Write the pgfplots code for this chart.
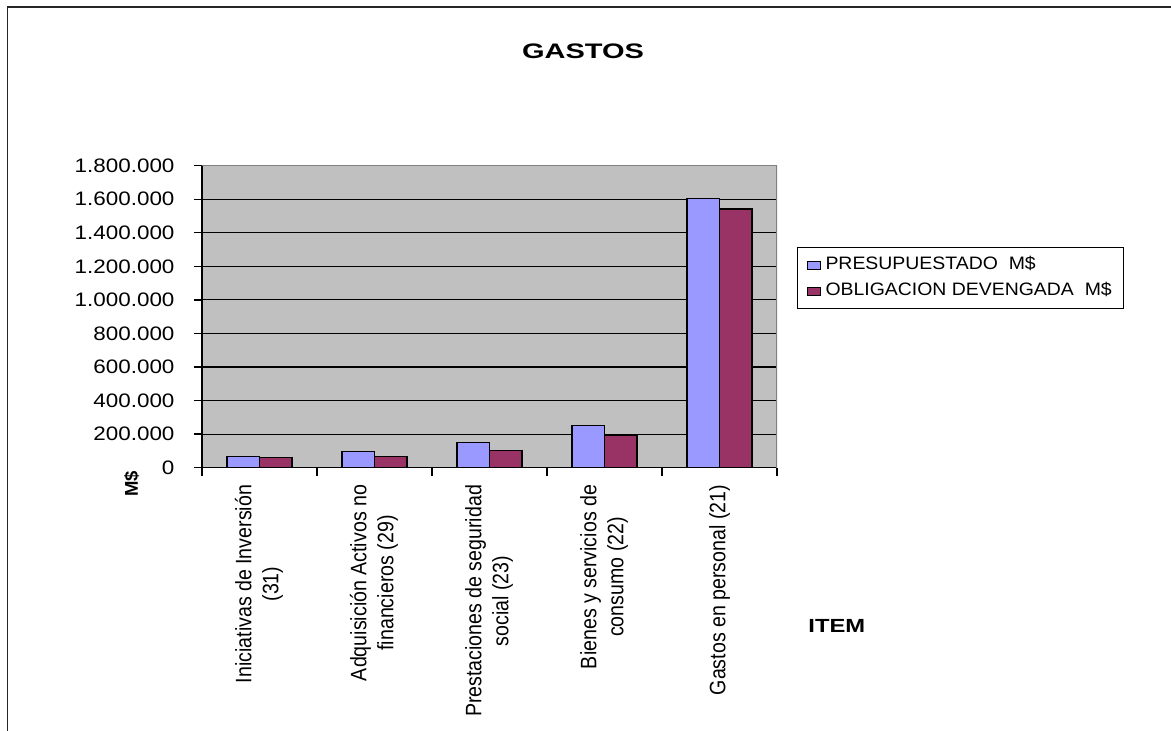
\documentclass[border=0pt]{standalone}
\usepackage{fontspec}
\setmainfont{Liberation Sans}
\usepackage{pgfplots}
\pgfplotsset{compat=1.18}
\definecolor{barblue}{HTML}{9999FF}
\definecolor{barred}{HTML}{993366}
\definecolor{plotgray}{HTML}{C0C0C0}
\definecolor{bordergray}{HTML}{808080}
% the reference text is a little wider than Arial
\newcommand\wx[2][1.15]{\scalebox{#1}[1]{#2}}
\newcommand\xl[2]{\scalebox{1}[1.14]{\begin{tabular}{@{}c@{}}#1\\#2\end{tabular}}}

\begin{document}
\begin{tikzpicture}[x=1pt,y=1pt]
\path[use as bounding box] (0,0) rectangle (1171,731);
% outer chart frame (cut off at right and bottom)
\draw[line width=1.6pt, black!85] (7.5,0) -- (7.5,723.8) -- (1171,723.8);
\begin{axis}[
  at={(202pt,263.3pt)}, anchor=south west,
  scale only axis, width=575pt, height=302pt,
  xmin=-0.5, xmax=4.5, ymin=0, ymax=1800000,
  axis background/.style={fill=plotgray},
  axis lines*=left,
  axis line style={line width=1.3pt, black},
  xtick={-0.5,0.5,1.5,2.5,3.5,4.5},
  x tick label as interval,
  xticklabels={\xl{Iniciativas de Inversión}{(31)},
               \xl{Adquisición Activos no}{financieros (29)},
               \xl{Prestaciones de seguridad}{social (23)},
               \xl{Bienes y servicios de}{consumo (22)},
               \scalebox{1}[1.14]{Gastos en personal (21)}},
  x tick label style={rotate=90, anchor=east, inner sep=0pt,
                      font=\fontsize{19.6}{23.5}\selectfont},
  xticklabel shift=9pt,
  ytick={0,200000,400000,600000,800000,1000000,1200000,1400000,1600000,1800000},
  yticklabels={\wx{0},\wx{200.000},\wx{400.000},\wx{600.000},\wx{800.000},
               \wx{1.000.000},\wx{1.200.000},\wx{1.400.000},\wx{1.600.000},\wx{1.800.000}},
  scaled y ticks=false,
  y tick label style={font=\fontsize{19.5}{23}\selectfont},
  yticklabel shift=16pt,
  tick align=outside, major tick length=8pt,
  tick style={black, line width=1.3pt},
  ymajorgrids, grid style={black, line width=1.1pt},
  title={\wx[1.38]{GASTOS}},
  title style={at={(axis description cs:0.6626,1.36)}, anchor=center,
               font=\bfseries\fontsize{21}{25}\selectfont},
  xlabel={\wx[1.25]{ITEM}},
  xlabel style={at={(axis description cs:1.104,-0.524)}, anchor=center,
                font=\bfseries\fontsize{19}{23}\selectfont},
  ylabel={M\$},
  ylabel style={at={(axis description cs:-0.1223,-0.053)}, anchor=center, rotate=0,
                font=\bfseries\fontsize{18.5}{22}\selectfont},
  legsq/.style={legend image code/.code={
      \path[draw=none, fill=none] (0pt,0pt) -- (28pt,0pt);
      \draw[##1, draw=black, line width=0.8pt] (10pt,-4pt) rectangle (23pt,4pt);}},
  legend style={at={(1.0348,0.7308)}, anchor=north west, draw=black, line width=1pt,
                font=\fontsize{18}{21}\selectfont, inner xsep=0pt, inner ysep=9pt,
                row sep=9pt,
                nodes={inner xsep=0pt, inner ysep=0pt, text height=13pt, text depth=4pt}},
  legend cell align=left,
]
\addplot[ybar, fill=barblue, draw=black, line width=1.1pt, bar width=0.283, bar shift=-0.1415, legsq]
  coordinates {(0,69000) (1,96500) (2,150000) (3,254000) (4,1605000)};
\addplot[ybar, fill=barred, draw=black, line width=1.1pt, bar width=0.283, bar shift=0.1415, legsq]
  coordinates {(0,59000) (1,69000) (2,104000) (3,193000) (4,1542000)};
\legend{\wx[1.08]{PRESUPUESTADO\ \ M\$}\kern12pt, \wx[1.08]{OBLIGACION DEVENGADA\ \ M\$}\kern12pt}
\draw[bordergray, line width=1.5pt] (rel axis cs:0,1) -- (rel axis cs:1,1) -- (rel axis cs:1,0);
\end{axis}
\end{tikzpicture}
\end{document}
